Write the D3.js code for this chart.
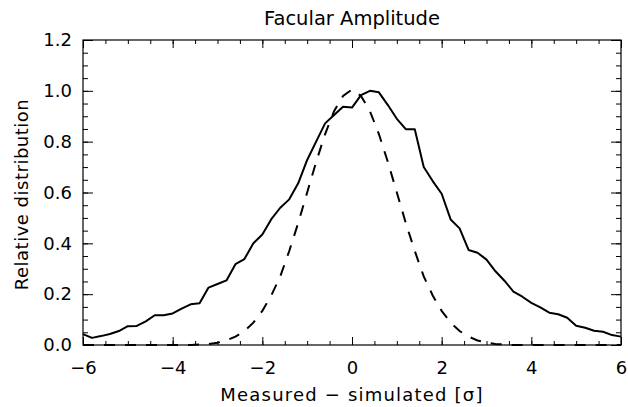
<!DOCTYPE html>
<html>
<head>
<meta charset="utf-8">
<script src="https://cdn.jsdelivr.net/npm/d3@7"></script>
<style>
body { margin: 0; background: #fff; }
text { font-family: "DejaVu Sans", sans-serif; fill: #000; }
</style>
</head>
<body>
<svg id="chart"></svg>
<script>
// bin centres (sigma)
const xbins = [-6.0,-5.8,-5.6,-5.4,-5.2,-5.0,-4.8,-4.6,-4.4,-4.2,-4.0,-3.8,-3.6,-3.4,-3.2,-3.0,-2.8,-2.6,-2.4,-2.2,
    -2.0,-1.8,-1.6,-1.4,-1.2,-1.0,-0.8,-0.6,-0.4,-0.2,0.0,0.2,0.4,0.6,0.8,1.0,1.2,1.4,1.6,1.8,
    2.0,2.2,2.4,2.6,2.8,3.0,3.2,3.4,3.6,3.8,4.0,4.2,4.4,4.6,4.8,5.0,5.2,5.4,5.6,5.8,6.0];

// solid line: measured distribution
const measured = [0.043,0.028,0.035,0.043,0.055,0.074,0.075,0.093,0.117,0.117,0.124,0.143,0.160,0.164,0.226,0.240,0.254,0.318,0.338,0.400,
    0.435,0.495,0.540,0.573,0.636,0.728,0.800,0.872,0.905,0.937,0.934,0.983,1.000,0.994,0.944,0.890,0.849,0.849,0.700,0.645,
    0.595,0.494,0.459,0.374,0.363,0.336,0.290,0.253,0.210,0.190,0.166,0.148,0.127,0.121,0.107,0.076,0.068,0.056,0.052,0.039,0.033];

// dashed line: reference
const reference = [0,0,0,0,0,0,0,0,0,0,0,0,0,0.002,0.004,0.009,0.018,0.033,0.055,0.088,
    0.134,0.195,0.270,0.370,0.480,0.600,0.720,0.830,0.920,0.980,1.005,0.980,0.920,0.830,0.720,0.600,0.480,0.370,0.270,0.195,
    0.134,0.088,0.055,0.033,0.018,0.009,0.004,0.002,0,0,0,0,0,0,0,0,0,0,0,0,0];

const xticks = [-6,-4,-2,0,2,4,6];
const yticks = [0.0,0.2,0.4,0.6,0.8,1.0,1.2];

const title = "Facular Amplitude";
const xlabel = "Measured \u2212 simulated [\u03c3]";
const ylabel = "Relative distribution";


class LinePlot {

    constructor( config ) {
        this.config = {
            parent: config.parent,
            width: config.width || 628,
            height: config.height || 407,
            margin: config.margin || {top:40, right:7, bottom:62, left:83},
        }
        this.init();
    }

    init() {
        let self = this;

        self.svg = d3.select( self.config.parent )
            .attr('width', self.config.width)
            .attr('height', self.config.height);

        self.chart = self.svg.append('g')
            .attr('transform', `translate(${self.config.margin.left}, ${self.config.margin.top})`);

        self.inner_width = self.config.width - self.config.margin.left - self.config.margin.right;
        self.inner_height = self.config.height - self.config.margin.top - self.config.margin.bottom;

        self.xscale = d3.scaleLinear().domain([-6, 6]).range([0, self.inner_width]);
        self.yscale = d3.scaleLinear().domain([0, 1.2]).range([self.inner_height, 0]);
    }

    render() {
        let self = this;
        const W = self.inner_width, H = self.inner_height;
        const minus = d => d < 0 ? "\u2212" + Math.abs(d) : "" + d;

        // box
        self.chart.append('rect')
            .attr('x', 0).attr('y', 0)
            .attr('width', W).attr('height', H)
            .attr('fill', 'none')
            .attr('stroke', '#000')
            .attr('stroke-width', 1.2);

        const xminor = d3.range(-6, 6.01, 0.5);
        const yminor = d3.range(0, 1.201, 0.05);

        const axes = [
            [d3.axisBottom(self.xscale).tickValues(xminor).tickSize(-4).tickFormat(''), `translate(0,${H})`],
            [d3.axisTop(self.xscale).tickValues(xminor).tickSize(-4).tickFormat(''), `translate(0,0)`],
            [d3.axisTop(self.xscale).tickValues(xticks).tickSize(-8).tickFormat(''), `translate(0,0)`],
            [d3.axisLeft(self.yscale).tickValues(yminor).tickSize(-5).tickFormat(''), `translate(0,0)`],
            [d3.axisRight(self.yscale).tickValues(yminor).tickSize(-5).tickFormat(''), `translate(${W},0)`],
            [d3.axisRight(self.yscale).tickValues(yticks).tickSize(-10).tickFormat(''), `translate(${W},0)`],
            [d3.axisBottom(self.xscale).tickValues(xticks).tickSizeInner(-8).tickSizeOuter(0)
                .tickPadding(16).tickFormat(minus), `translate(0,${H})`],
            [d3.axisLeft(self.yscale).tickValues(yticks).tickSizeInner(-10).tickSizeOuter(0)
                .tickPadding(11).tickFormat(d3.format('.1f')), `translate(0,0)`],
        ];
        axes.forEach(a => {
            const g = self.chart.append('g').attr('transform', a[1]).call(a[0]);
            g.select('.domain').remove();
            g.selectAll('line').attr('stroke', '#000').attr('stroke-width', 1);
            g.selectAll('text').style('font-size', '18px').style('font-family', '"DejaVu Sans", sans-serif');
        });

        const rows = xbins.map((x, i) => ({x: x, m: measured[i], r: reference[i]}));

        const line_m = d3.line().x(d => self.xscale(d.x)).y(d => self.yscale(d.m));
        const line_r = d3.line().x(d => self.xscale(d.x)).y(d => self.yscale(d.r));

        self.chart.append('path')
            .datum(rows)
            .attr('d', line_m)
            .attr('fill', 'none')
            .attr('stroke', '#000')
            .attr('stroke-width', 2)
            .attr('stroke-linejoin', 'round');

        self.chart.append('path')
            .datum(rows)
            .attr('d', line_r)
            .attr('fill', 'none')
            .attr('stroke', '#000')
            .attr('stroke-width', 2)
            .attr('stroke-dasharray', '11,10');

        // titles
        self.svg.append('text')
            .attr('x', self.config.margin.left + W / 2)
            .attr('y', 25)
            .attr('text-anchor', 'middle')
            .style('font-size', '19.5px')
            .text(title);

        self.svg.append('text')
            .attr('x', self.config.margin.left + W / 2)
            .attr('y', 401)
            .attr('text-anchor', 'middle')
            .style('font-size', '18px')
            .style('letter-spacing', '1.2px')
            .text(xlabel);

        self.svg.append('text')
            .attr('transform', `translate(28, ${self.config.margin.top + H / 2 + 2}) rotate(-90)`)
            .attr('text-anchor', 'middle')
            .style('font-size', '18px')
            .style('letter-spacing', '0.5px')
            .text(ylabel);
    }
}

let plot = new LinePlot({ parent: '#chart', width: 628, height: 407 });
plot.render();
</script>
</body>
</html>
